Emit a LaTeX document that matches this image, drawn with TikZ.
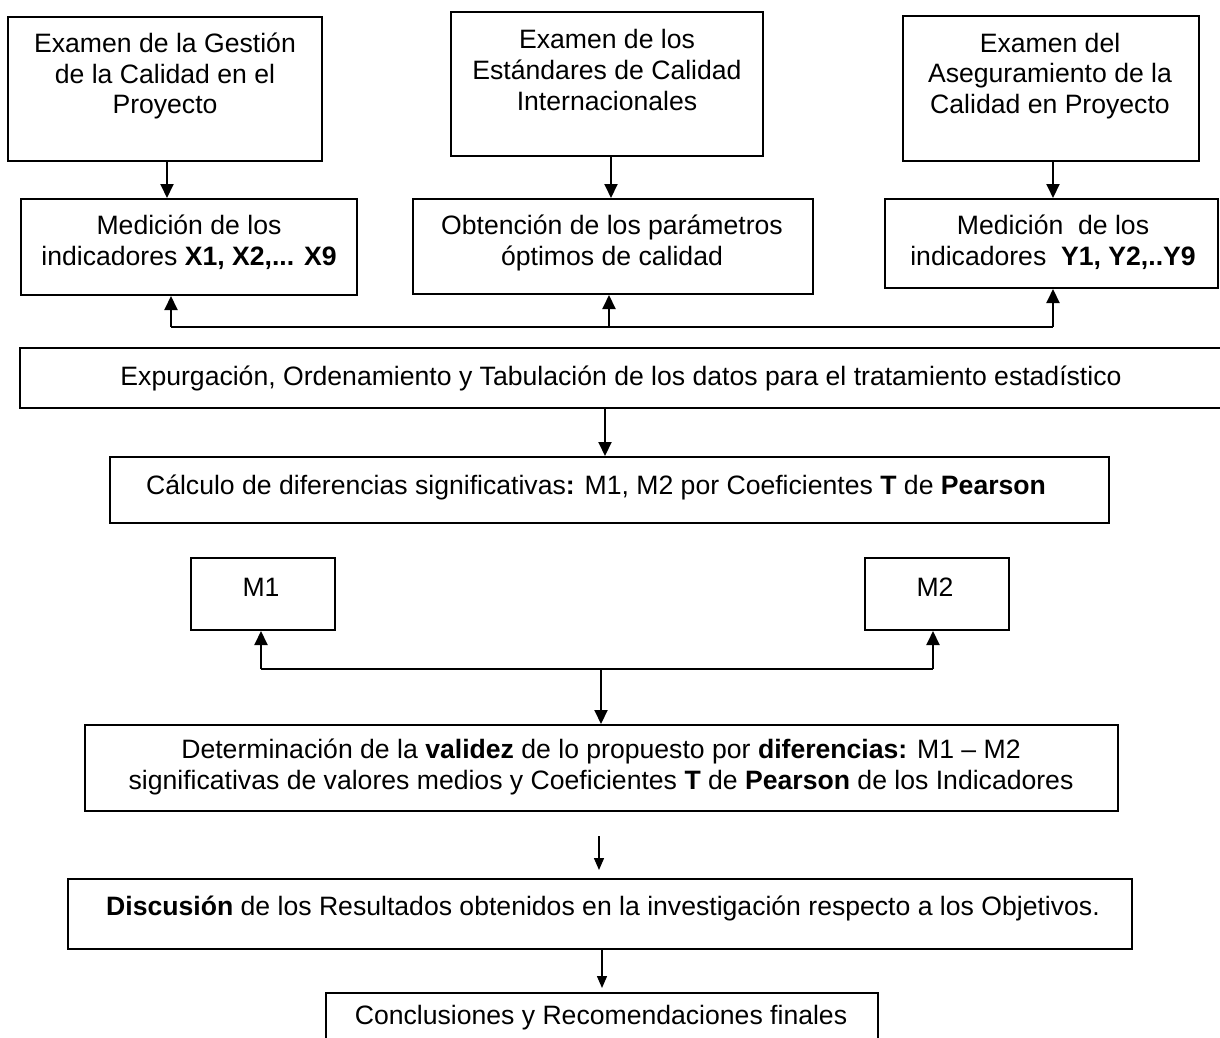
\documentclass[tikz,border=0pt]{standalone}
\usepackage{fontspec}
\setmainfont{Liberation Sans}
\usetikzlibrary{fit,arrows.meta}
\begin{document}
\begin{tikzpicture}[x=0.5pt,y=-0.5pt,
  box/.style={draw, line width=1pt, inner sep=0pt},
  txt/.style={align=center, inner sep=0pt, font=\fontsize{13.3pt}{15.3pt}\selectfont},
  arr/.style={line width=1pt, -{Triangle[length=7pt,width=6.5pt]}},
  thinarr/.style={line width=0.7pt, -{Triangle[length=6pt,width=5pt]}},
  link/.style={line width=1pt}]
\useasboundingbox (0,0) rectangle (1220,1038);
\clip (0,0) rectangle (1220,1038);

% top row: examinations
\node[box, fit={(8,17) (322,161)}] (A) {};
\node[txt] (At) at (165,76) {Examen de la Gestión\\de la Calidad en el\\Proyecto};
\node[box, fit={(451,12) (763,156)}] (B) {};
\node[txt] (Bt) at (607,70) {Examen de los\\Estándares de Calidad\\Internacionales};
\node[box, fit={(903,16) (1199,161)}] (C) {};
\node[txt] (Ct) at (1050,76) {Examen del\\Aseguramiento de la\\Calidad en Proyecto};

% second row: measurements
\node[box, fit={(21,199) (357,295)}] (D) {};
\node[txt] (Dt) at (189,242) {Medición de los\\indicadores \textbf{X1, X2,... X9}};
\node[box, fit={(413,199) (813,294)}] (E) {};
\node[txt] (Et) at (612,243) {Obtención de los parámetros\\óptimos de calidad};
\node[box, fit={(885,199) (1218,288)}] (F) {};
\node[txt] (Ft) at (1053,242) {Medición\ \ de los\\indicadores\ \ \textbf{Y1, Y2,..Y9}};

\draw[arr] (167,161) coordinate (a0) -- (a0 |- D.north);
\draw[arr] (611,156) coordinate (b0) -- (b0 |- E.north);
\draw[arr] (1053,161) coordinate (c0) -- (c0 |- F.north);

% feedback line under the second row
\coordinate (fd) at (171,327);
\coordinate (fe) at (609,327);
\coordinate (ff) at (1053,327);
\draw[link] (fd) -- (ff);
\draw[arr] (fd) -- (fd |- D.south);
\draw[arr] (fe) -- (fe |- E.south);
\draw[arr] (ff) -- (ff |- F.south);

% data processing
\node[box, fit={(20,348) (1225,408)}] (G) {};
\node[txt] (Gt) at (621,378) {Expurgación, Ordenamiento y Tabulación de los datos para el tratamiento estadístico};
\node[box, fit={(110,457) (1109,523)}] (H) {};
\node[txt] (Ht) at (596,487) {Cálculo de diferencias significativas\textbf{:} M1, M2 por Coeficientes \textbf{T} de \textbf{Pearson}};
\draw[arr] (605,408) coordinate (g0) -- (g0 |- H.north);

% means
\node[box, fit={(191,558) (335,630)}] (M1) {};
\node[txt] (M1t) at (261,587) {M1};
\node[box, fit={(865,558) (1009,630)}] (M2) {};
\node[txt] (M2t) at (935,587) {M2};
\coordinate (m1) at (261,669);
\coordinate (m2) at (933,669);
\coordinate (mm) at (601,669);
\draw[link] (m1) -- (m2);
\draw[arr] (m1) -- (m1 |- M1.south);
\draw[arr] (m2) -- (m2 |- M2.south);

% validation and conclusions
\node[box, fit={(85,725) (1118,811)}] (I) {};
\node[txt] (It) at (601,767) {Determinación de la \textbf{validez} de lo propuesto por \textbf{diferencias:} M1 – M2\\significativas de valores medios y Coeficientes \textbf{T} de \textbf{Pearson} de los Indicadores};
\draw[arr] (mm) -- (mm |- I.north);

\node[box, fit={(68,879) (1132,949)}] (J) {};
\node[txt] (Jt) at (603,908) {\textbf{Discusión} de los Resultados obtenidos en la investigación respecto a los Objetivos.};
\coordinate (i0) at (599,836);
\draw[thinarr, shorten >=4pt] (i0) -- (i0 |- J.north);

\node[box, fit={(326,993) (878,1060)}] (K) {};
\node[txt] (Kt) at (601,1018) {Conclusiones y Recomendaciones finales};
\draw[thinarr, shorten >=2pt] (602,949) coordinate (j0) -- (j0 |- K.north);
\end{tikzpicture}
\end{document}
